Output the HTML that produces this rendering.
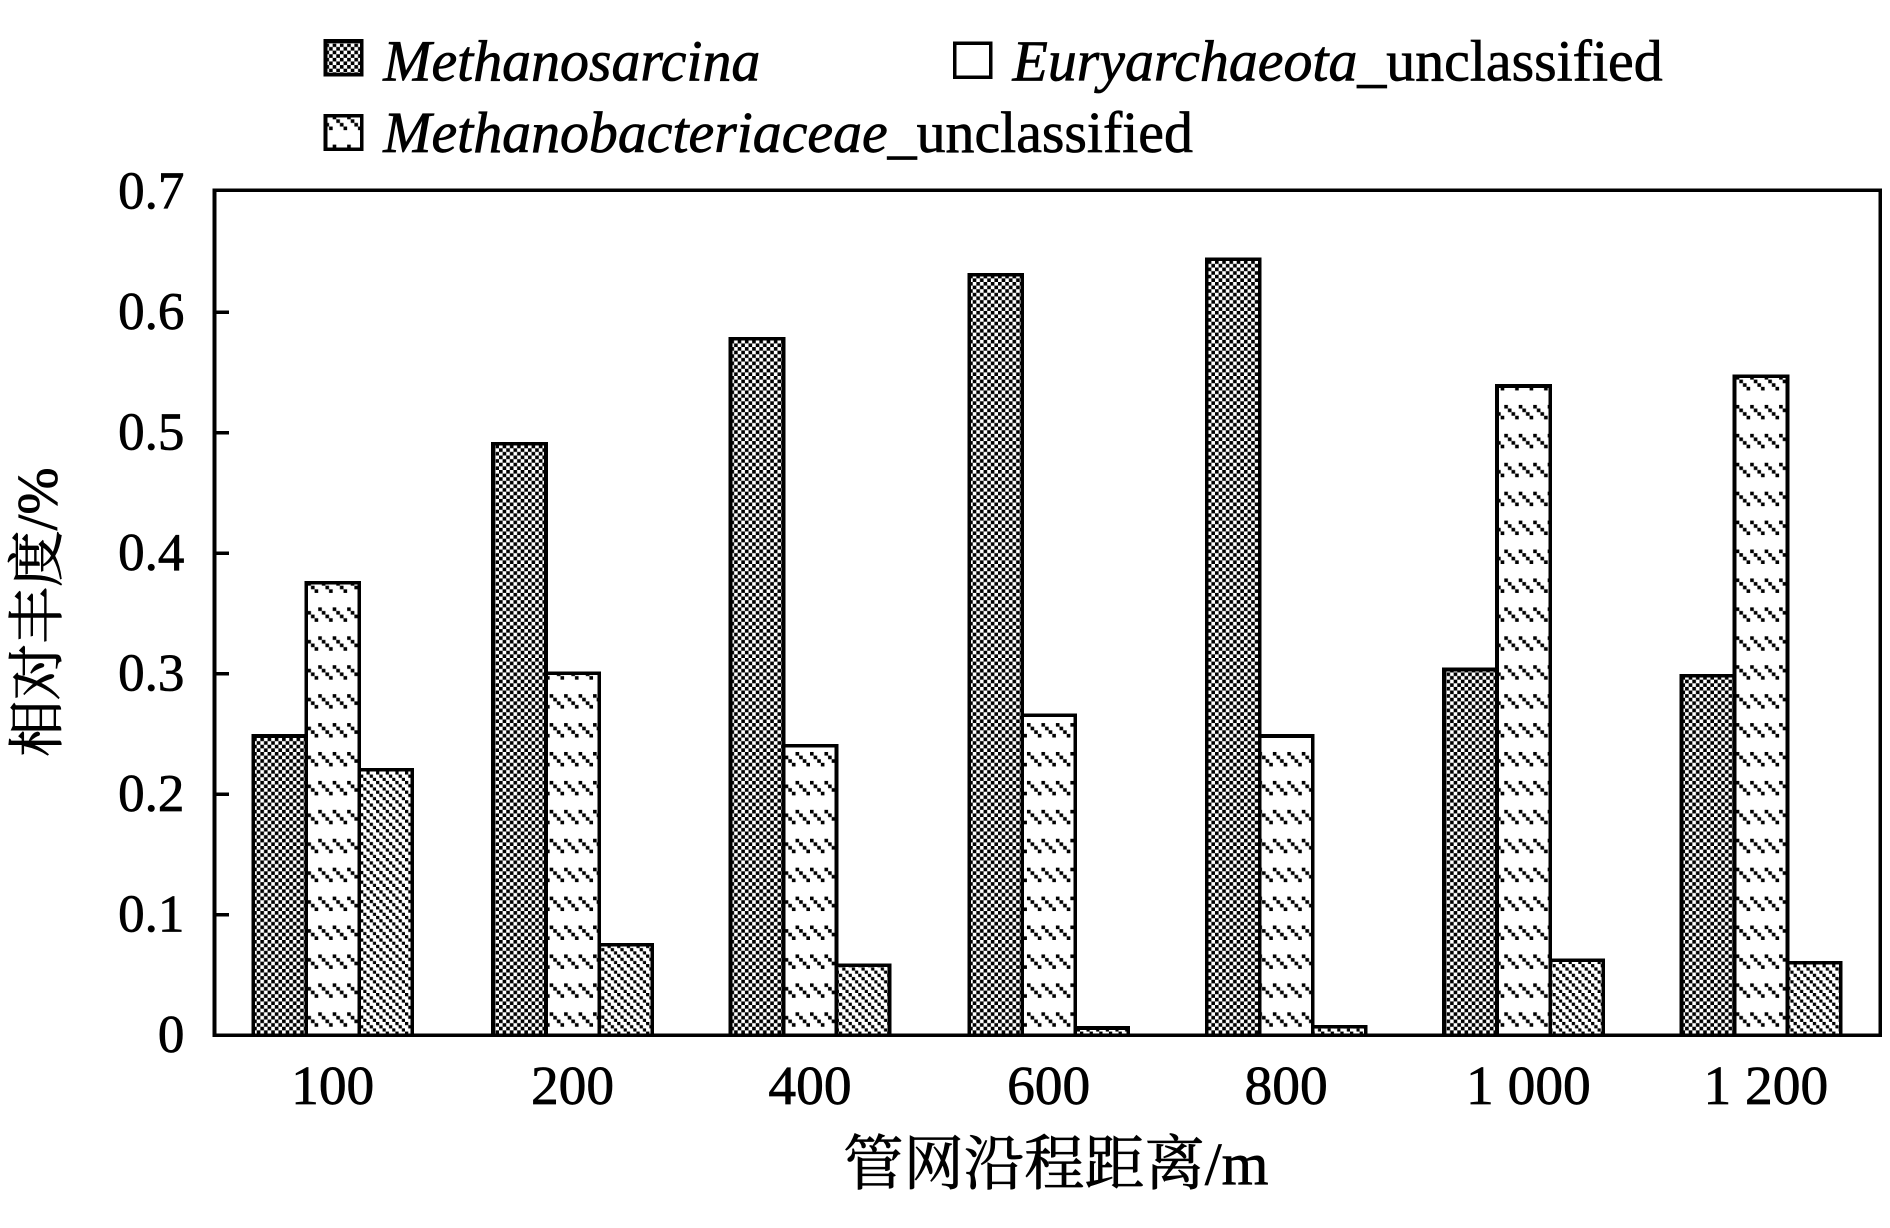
<!DOCTYPE html>
<html><head><meta charset="utf-8"><style>html,body{margin:0;padding:0;background:#fff}svg{display:block}</style></head><body>
<svg width="1890" height="1228" viewBox="0 0 1568 1019" preserveAspectRatio="none" xmlns="http://www.w3.org/2000/svg">
<defs>
<pattern id="chk" width="6" height="6" patternUnits="userSpaceOnUse"><rect width="6" height="6" fill="#fff"/><rect width="3" height="3" fill="#000"/><rect x="3" y="3" width="3" height="3" fill="#000"/></pattern>
<pattern id="dsh" width="24" height="24" patternUnits="userSpaceOnUse"><rect width="24" height="24" fill="#fff"/><g fill="#000"><rect x="0" y="0" width="3" height="3"/><rect x="3" y="3" width="3" height="3"/><rect x="6" y="6" width="3" height="3"/><rect x="9" y="9" width="3" height="3"/><rect x="12" y="0" width="3" height="3"/><rect x="15" y="3" width="3" height="3"/><rect x="18" y="6" width="3" height="3"/><rect x="21" y="9" width="3" height="3"/></g></pattern>
<pattern id="dia" width="8" height="8" patternUnits="userSpaceOnUse"><rect width="8" height="8" fill="#fff"/><g fill="#000"><rect x="0" y="0" width="2.7" height="2.7"/><rect x="2.7" y="2.7" width="2.7" height="2.7"/><rect x="5.4" y="5.4" width="2.7" height="2.7"/></g></pattern>
</defs>
<g font-family="Liberation Serif, serif" fill="#000" stroke="#000" stroke-width="0.6">
<!-- legend -->
<text x="318" y="67" font-size="48" font-style="italic">Methanosarcina</text>
<text x="840" y="67" font-size="48"><tspan font-style="italic">Euryarchaeota</tspan>_unclassified</text>
<text x="318" y="126" font-size="48"><tspan font-style="italic">Methanobacteriaceae</tspan>_unclassified</text>
<g font-size="44" text-anchor="end">
<text x="153" y="873">0</text><text x="153" y="773">0.1</text><text x="153" y="673">0.2</text><text x="153" y="573">0.3</text><text x="153" y="473">0.4</text><text x="153" y="373">0.5</text><text x="153" y="273">0.6</text><text x="153" y="173">0.7</text>
</g>
<g font-size="46" text-anchor="middle">
<text x="276" y="916">100</text><text x="475" y="916">200</text><text x="672" y="916">400</text><text x="870" y="916">600</text><text x="1067" y="916">800</text><text x="1268" y="916">1 000</text><text x="1465" y="916">1 200</text>
</g>
<text x="876" y="983" font-size="50" text-anchor="middle" font-family="Liberation Serif, 'Noto Serif CJK SC', serif">管网沿程距离/m</text>
<text transform="translate(47,508) rotate(-90)" font-size="47" text-anchor="middle" font-family="Liberation Serif, 'Noto Serif CJK SC', serif">相对丰度/%</text>
</g>
<g shape-rendering="crispEdges">
<rect x="270" y="34" width="30" height="28" fill="url(#chk)" stroke="#000" stroke-width="3"/>
<rect x="792" y="36" width="30" height="28" fill="#fff" stroke="#000" stroke-width="3"/>
<rect x="270" y="96" width="30" height="28" fill="url(#dsh)" stroke="#000" stroke-width="3"/>
<g stroke="#000" stroke-width="3">
<line x1="178" y1="759" x2="190" y2="759"/><line x1="178" y1="659" x2="190" y2="659"/><line x1="178" y1="559" x2="190" y2="559"/><line x1="178" y1="459" x2="190" y2="459"/><line x1="178" y1="359" x2="190" y2="359"/><line x1="178" y1="259" x2="190" y2="259"/>
</g>
<g stroke="#000" stroke-width="3">
<rect x="210" y="610.7" width="44" height="248.3" fill="url(#chk)"/><rect x="254" y="483.5" width="44" height="375.5" fill="url(#dsh)"/><rect x="298" y="638.7" width="44" height="220.3" fill="url(#dia)"/>
<rect x="409" y="368.3" width="44" height="490.7" fill="url(#chk)"/><rect x="453" y="558.6" width="44" height="300.4" fill="url(#dsh)"/><rect x="497" y="783.9" width="44" height="75.1" fill="url(#dia)"/>
<rect x="606" y="281.2" width="44" height="577.8" fill="url(#chk)"/><rect x="650" y="618.7" width="44" height="240.3" fill="url(#dsh)"/><rect x="694" y="800.9" width="44" height="58.1" fill="url(#dia)"/>
<rect x="804" y="228.1" width="44" height="630.9" fill="url(#chk)"/><rect x="848" y="593.6" width="44" height="265.4" fill="url(#dsh)"/><rect x="892" y="853" width="44" height="6" fill="url(#dia)"/>
<rect x="1001" y="215.1" width="44" height="643.9" fill="url(#chk)"/><rect x="1045" y="610.7" width="44" height="248.3" fill="url(#dsh)"/><rect x="1089" y="852" width="44" height="7" fill="url(#dia)"/>
<rect x="1198" y="555.6" width="44" height="303.4" fill="url(#chk)"/><rect x="1242" y="320.3" width="44" height="538.7" fill="url(#dsh)"/><rect x="1286" y="796.9" width="44" height="62.1" fill="url(#dia)"/>
<rect x="1395" y="560.6" width="44" height="298.4" fill="url(#chk)"/><rect x="1439" y="312.3" width="44" height="546.7" fill="url(#dsh)"/><rect x="1483" y="798.9" width="44" height="60.1" fill="url(#dia)"/>
</g>
<rect x="178" y="158" width="1382" height="701" fill="none" stroke="#000" stroke-width="3"/>
</g>
</svg>
</body></html>
